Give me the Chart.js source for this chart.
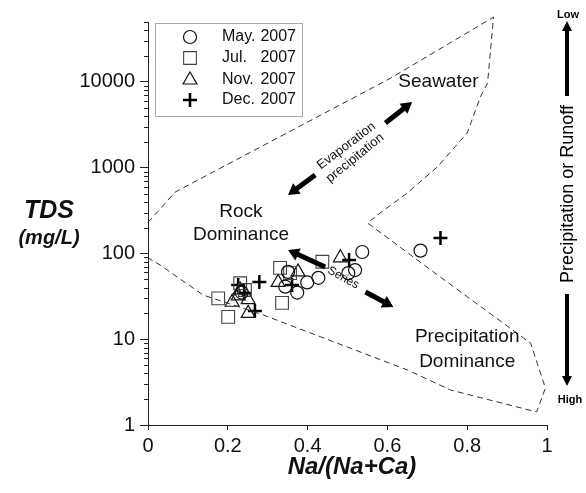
<!DOCTYPE html>
<html><head><meta charset="utf-8">
<script src="https://cdn.jsdelivr.net/npm/chart.js@4.4.0/dist/chart.umd.min.js"></script>
<style>html,body{margin:0;padding:0;background:#fff;} #wrap{width:586px;height:493px;position:relative;}</style>
</head><body><div id="wrap"><canvas id="c" width="586" height="493"></canvas></div>
<script>
const FONT = '"Liberation Sans", Arial, Helvetica, sans-serif';

// ---- data ----
const xTicks = [0, 0.2, 0.4, 0.6, 0.8, 1];
const yTicks = [1, 10, 100, 1000, 10000];
const seriesNames = ['May.', 'Jul.', 'Nov.', 'Dec.'];
const seriesYear = '2007';

const mayX = [0.537, 0.519, 0.502, 0.427, 0.399, 0.374, 0.351, 0.344, 0.683, 0.235];
const mayY = [104, 64, 59, 52, 46, 35, 61, 41, 108, 35];

const julX = [0.437, 0.331, 0.356, 0.336, 0.176, 0.201, 0.231, 0.243];
const julY = [80, 68, 59, 26.5, 30, 18.2, 45, 37.5];

const novX = [0.482, 0.376, 0.326, 0.211, 0.251, 0.251, 0.231, 0.226];
const novY = [89, 61, 46, 27, 29, 20, 37.5, 32];

const decX = [0.504, 0.361, 0.279, 0.268, 0.226, 0.241, 0.733];
const decY = [84, 43, 46.5, 21.3, 43, 34.7, 152];

// Gibbs boomerang envelope (dashed)
const envX = [0, 0.068, 0.607, 0.866, 0.851, 0.833, 0.80, 0.725, 0.65, 0.582, 0.55, 0.665, 0.733, 0.959, 0.996, 0.974, 0.758, 0.65, 0.289, 0.138, 0.03, 0];
const envY = [230, 520, 11000, 57000, 9700, 6700, 2540, 1020, 508, 297, 227, 91, 53, 9.0, 2.7, 1.42, 2.56, 4.38, 19.2, 32.8, 73.5, 89];

const pts = (xs, ys) => xs.map((x, i) => ({x: x, y: ys[i]}));

function drawArrow(ctx, x1, y1, x2, y2, w, hl, hw) {
  const ang = Math.atan2(y2 - y1, x2 - x1);
  const len = Math.hypot(x2 - x1, y2 - y1);
  ctx.save();
  ctx.translate(x1, y1); ctx.rotate(ang);
  ctx.beginPath();
  ctx.moveTo(0, -w / 2); ctx.lineTo(len - hl, -w / 2); ctx.lineTo(len - hl, -hw / 2);
  ctx.lineTo(len, 0); ctx.lineTo(len - hl, hw / 2); ctx.lineTo(len - hl, w / 2); ctx.lineTo(0, w / 2);
  ctx.closePath(); ctx.fill();
  ctx.restore();
}
function drawText(ctx, s, x, y, font, rot, align) {
  ctx.save();
  ctx.translate(x, y); if (rot) ctx.rotate(rot * Math.PI / 180);
  ctx.font = font; ctx.textAlign = align || 'center'; ctx.textBaseline = 'middle';
  ctx.fillText(s, 0, 0);
  ctx.restore();
}

const annot = {
  id: 'annot',
  afterDraw(chart) {
    const ctx = chart.ctx, xs = chart.scales.x, ys = chart.scales.y;
    const X = v => xs.getPixelForValue(v), Y = v => ys.getPixelForValue(v);
    const area = chart.chartArea;
    ctx.save();
    ctx.fillStyle = '#111'; ctx.strokeStyle = '#222';
    // minor y ticks
    ctx.lineWidth = 1;
    ctx.beginPath();
    for (const d of yTicks) {
      for (let m = 2; m <= 9; m++) {
        const v = m * d; if (v > 50000) continue;
        const py = Math.round(Y(v)) + 0.5;
        ctx.moveTo(area.left - 4, py); ctx.lineTo(area.left, py);
      }
    }
    ctx.stroke();

    // region labels
    const f19 = '19px ' + FONT;
    drawText(ctx, 'Seawater', X(0.728), Y(10000), f19);
    drawText(ctx, 'Rock', X(0.233), Y(305), f19);
    drawText(ctx, 'Dominance', X(0.233), Y(164), f19);
    drawText(ctx, 'Precipitation', X(0.80), Y(10.6), f19);
    drawText(ctx, 'Dominance', X(0.80), Y(5.43), f19);
    const f13 = '13px ' + FONT;
    drawText(ctx, 'Evaporation', X(0.497), Y(1794), f13, -37);
    drawText(ctx, 'precipitation', X(0.519), Y(1300), f13, -39);
    drawText(ctx, 'Series', X(0.489), Y(52), '12px ' + FONT, 29);

    // arrows
    ctx.fillStyle = '#000';
    drawArrow(ctx, X(0.419), Y(823), X(0.351), Y(481), 5, 11, 13);
    drawArrow(ctx, X(0.595), Y(3325), X(0.662), Y(5845), 5, 11, 13);
    drawArrow(ctx, X(0.444), Y(69.6), X(0.351), Y(110), 5, 11, 13);
    drawArrow(ctx, X(0.545), Y(35.6), X(0.615), Y(23.8), 5, 11, 13);

    // right side scale
    drawText(ctx, 'Low', 568, 15, 'bold 11px ' + FONT);
    drawArrow(ctx, 567, 96, 567, 21, 4, 10, 10);
    drawText(ctx, 'Precipitation or Runoff', 568, 194, '18px ' + FONT, -90);
    drawArrow(ctx, 567, 294, 567, 386, 4, 10, 10);
    drawText(ctx, 'High', 570, 400, 'bold 11px ' + FONT);

    // axis titles
    ctx.fillStyle = '#111';
    drawText(ctx, 'TDS', 49, 211, 'italic bold 25px ' + FONT);
    drawText(ctx, '(mg/L)', 49, 238, 'italic bold 20px ' + FONT);
    drawText(ctx, 'Na/(Na+Ca)', 352, 467, 'italic bold 24px ' + FONT);

    // legend
    ctx.strokeStyle = '#555'; ctx.lineWidth = 1;
    ctx.setLineDash([1, 1]);
    ctx.strokeRect(155.5, 23.5, 147, 93);
    ctx.setLineDash([]);
    const rows = [37, 58, 80, 100];
    const styles = chart.data.datasets.slice(1);
    rows.forEach((ry, i) => {
      const ds = styles[i];
      ctx.save();
      ctx.fillStyle = 'rgba(0,0,0,0)';
      ctx.strokeStyle = ds.borderColor; ctx.lineWidth = ds.borderWidth;
      Chart.helpers.drawPoint(ctx, {pointStyle: ds.pointStyle, radius: ds.pointRadius, borderWidth: ds.borderWidth, rotation: 0}, 190, ry);
      ctx.restore();
      ctx.fillStyle = '#111';
      drawText(ctx, seriesNames[i], 222, ry, '16px ' + FONT, 0, 'left');
      drawText(ctx, seriesYear, 296, ry, '16px ' + FONT, 0, 'right');
    });
    ctx.restore();
  }
};

new Chart(document.getElementById('c'), {
  type: 'scatter',
  data: {
    datasets: [
      {label: 'envelope', data: pts(envX, envY), showLine: true, borderColor: '#333', borderWidth: 1, borderDash: [6, 4], pointRadius: 0, fill: false, clip: false, tension: 0},
      {label: 'May. 2007', data: pts(mayX, mayY), pointStyle: 'circle', pointRadius: 6.5, borderWidth: 1.2, borderColor: '#111', backgroundColor: 'rgba(0,0,0,0)'},
      {label: 'Jul. 2007', data: pts(julX, julY), pointStyle: 'rect', pointRadius: 9, borderWidth: 1.1, borderColor: '#444', backgroundColor: 'rgba(0,0,0,0)'},
      {label: 'Nov. 2007', data: pts(novX, novY), pointStyle: 'triangle', pointRadius: 8, borderWidth: 1.2, borderColor: '#111', backgroundColor: 'rgba(0,0,0,0)'},
      {label: 'Dec. 2007', data: pts(decX, decY), pointStyle: 'cross', pointRadius: 7, borderWidth: 2.5, borderColor: '#000', backgroundColor: 'rgba(0,0,0,0)'}
    ]
  },
  options: {
    responsive: false, animation: false, devicePixelRatio: 1,
    layout: {padding: {top: 22, right: 39, bottom: 0, left: 0}},
    plugins: {legend: {display: false}, tooltip: {enabled: false}},
    scales: {
      x: {
        type: 'linear', min: 0, max: 1,
        afterBuildTicks: s => { s.ticks = xTicks.map(v => ({value: v})); },
        afterFit: s => { s.height = 68; },
        grid: {drawOnChartArea: false, tickLength: 5, color: '#222', tickColor: '#222'},
        border: {color: '#222', width: 1},
        ticks: {font: {family: FONT, size: 20}, color: '#111', padding: 4, maxRotation: 0, callback: v => String(v)}
      },
      y: {
        type: 'logarithmic', min: 1, max: 50000,
        afterBuildTicks: s => { s.ticks = yTicks.map(v => ({value: v})); },
        afterFit: s => { s.width = 148; },
        grid: {drawOnChartArea: false, tickLength: 8, color: '#222', tickColor: '#222'},
        border: {color: '#222', width: 1},
        ticks: {font: {family: FONT, size: 20}, color: '#111', padding: 5, callback: v => String(v)}
      }
    }
  },
  plugins: [annot]
});
</script></body></html>
